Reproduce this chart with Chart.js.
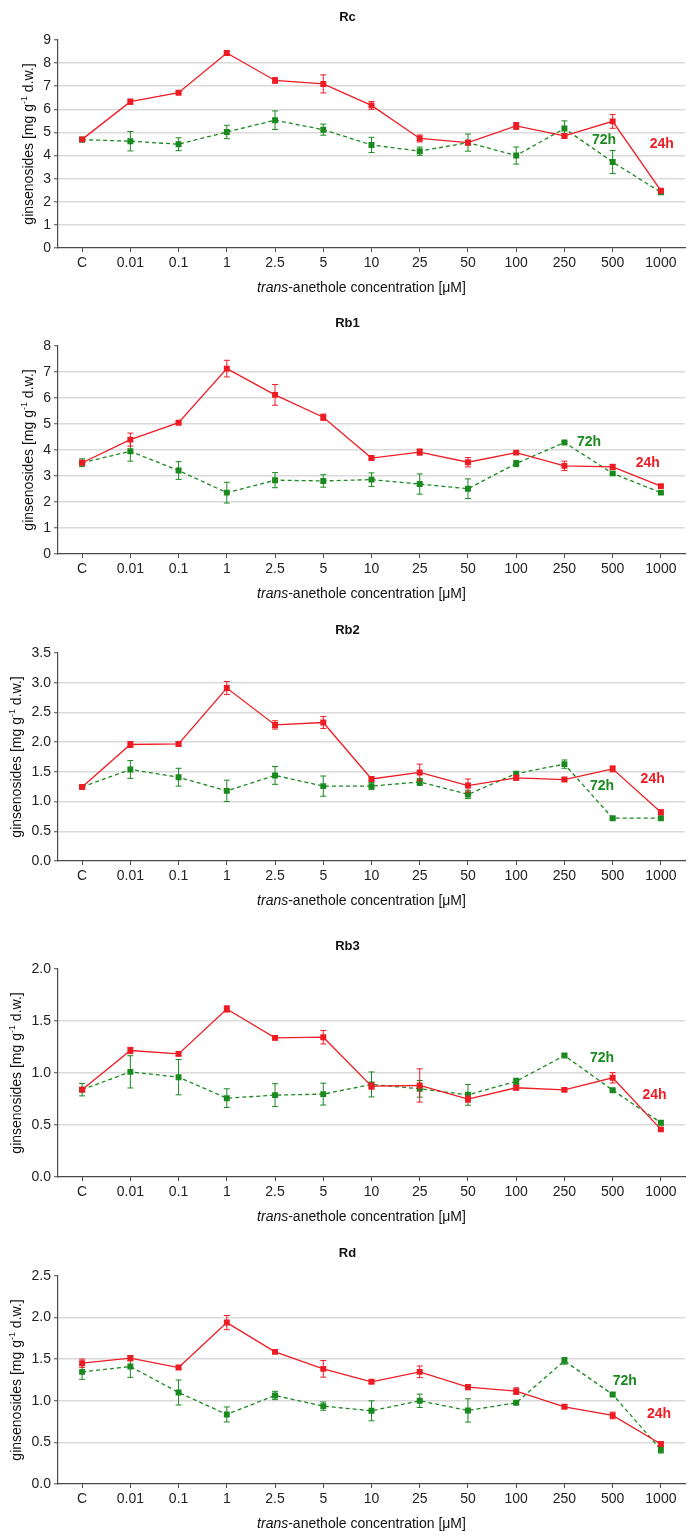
<!DOCTYPE html>
<html>
<head>
<meta charset="utf-8">
<script src="https://cdn.jsdelivr.net/npm/chart.js@4/dist/chart.umd.min.js"></script>
<style>
	body { margin: 0; background: #fff; }
	#wrap { position: relative; width: 695px; height: 1537px; }
	canvas { position: absolute; left: 0; }
</style>
</head>
<body>
<div id="wrap"></div>
<script>
const concentrations = ['C', '0.01', '0.1', '1', '2.5', '5', '10', '25', '50', '100', '250', '500', '1000'];

const rc24 = [4.70, 6.33, 6.72, 8.44, 7.25, 7.10, 6.17, 4.74, 4.56, 5.28, 4.85, 5.48, 2.48];
const rc24Err = [0.08, 0.11, 0.05, 0.07, 0.12, 0.39, 0.17, 0.15, 0.10, 0.15, 0.10, 0.30, 0.05];
const rc72 = [4.69, 4.62, 4.49, 5.02, 5.53, 5.12, 4.46, 4.19, 4.56, 4.00, 5.17, 3.72, 2.41];
const rc72Err = [0.10, 0.42, 0.28, 0.29, 0.40, 0.24, 0.33, 0.18, 0.37, 0.37, 0.33, 0.50, 0.08];

const rb1_24 = [3.51, 4.40, 5.05, 7.13, 6.12, 5.26, 3.69, 3.92, 3.53, 3.90, 3.39, 3.35, 2.61];
const rb1_24Err = [0.05, 0.25, 0.04, 0.32, 0.40, 0.12, 0.05, 0.12, 0.18, 0.05, 0.18, 0.10, 0.04];
const rb1_72 = [3.51, 3.95, 3.21, 2.36, 2.84, 2.81, 2.86, 2.69, 2.51, 3.48, 4.29, 3.10, 2.36];
const rb1_72Err = [0.15, 0.38, 0.34, 0.40, 0.29, 0.24, 0.26, 0.39, 0.38, 0.12, 0.05, 0.05, 0.05];

const rb2_24 = [1.245, 1.96, 1.97, 2.91, 2.29, 2.33, 1.38, 1.49, 1.27, 1.40, 1.37, 1.55, 0.82];
const rb2_24Err = [0.02, 0.05, 0.03, 0.11, 0.07, 0.10, 0.03, 0.14, 0.11, 0.04, 0.02, 0.05, 0.04];
const rb2_72 = [1.245, 1.54, 1.41, 1.18, 1.44, 1.26, 1.26, 1.33, 1.12, 1.47, 1.63, 0.72, 0.72];
const rb2_72Err = [0.03, 0.15, 0.15, 0.18, 0.15, 0.17, 0.06, 0.06, 0.07, 0.03, 0.07, 0.02, 0.02];

const rb3_24 = [0.84, 1.216, 1.184, 1.616, 1.338, 1.344, 0.874, 0.88, 0.749, 0.858, 0.838, 0.954, 0.458];
const rb3_24Err = [0.02, 0.03, 0.02, 0.03, 0.02, 0.065, 0.03, 0.16, 0.03, 0.02, 0.01, 0.05, 0.01];
const rb3_72 = [0.84, 1.011, 0.96, 0.758, 0.787, 0.797, 0.89, 0.848, 0.79, 0.92, 1.168, 0.835, 0.522];
const rb3_72Err = [0.06, 0.155, 0.17, 0.09, 0.11, 0.105, 0.12, 0.08, 0.10, 0.03, 0.01, 0.01, 0.02];

const rd24 = [1.452, 1.512, 1.40, 1.94, 1.588, 1.384, 1.228, 1.348, 1.164, 1.116, 0.928, 0.824, 0.48];
const rd24Err = [0.05, 0.03, 0.02, 0.085, 0.02, 0.10, 0.02, 0.07, 0.03, 0.04, 0.02, 0.04, 0.02];
const rd72 = [1.348, 1.412, 1.10, 0.836, 1.064, 0.936, 0.88, 1.00, 0.884, 0.976, 1.48, 1.076, 0.412];
const rd72Err = [0.09, 0.13, 0.15, 0.09, 0.05, 0.05, 0.12, 0.08, 0.14, 0.02, 0.04, 0.02, 0.04];

const titles = ['Rc', 'Rb1', 'Rb2', 'Rb3', 'Rd'];
const yMaxes = [9, 8, 3.5, 2.0, 2.5];
const ySteps = [1, 1, 0.5, 0.5, 0.5];
const yDecimals = [0, 0, 1, 1, 1];

const RED = '#ee1c24';
const GREEN = '#1a8a1f';
const FONT = '"Liberation Sans", Arial, sans-serif';
const AXIS = '#4a4a4a';

// where the "72h" / "24h" tags sit, as [category index, value]
const tagSpots = [
	{ t72: [10.82, 4.66], t24: [12.02, 4.50] },
	{ t72: [10.51, 4.30], t24: [11.73, 3.51] },
	{ t72: [10.78, 1.26], t24: [11.83, 1.37] },
	{ t72: [10.78, 1.146], t24: [11.87, 0.784] },
	{ t72: [11.25, 1.232], t24: [11.96, 0.844] }
];
const canvasTops = [0, 306, 613, 929, 1236];

const panels = [
	[rc24, rc24Err, rc72, rc72Err],
	[rb1_24, rb1_24Err, rb1_72, rb1_72Err],
	[rb2_24, rb2_24Err, rb2_72, rb2_72Err],
	[rb3_24, rb3_24Err, rb3_72, rb3_72Err],
	[rd24, rd24Err, rd72, rd72Err]
];

function drawRuns(ctx, runs, x, y) {
	let total = 0;
	runs.forEach(r => { ctx.font = r.font; total += ctx.measureText(r.text).width; });
	let cx = x - total / 2;
	runs.forEach(r => {
		ctx.font = r.font;
		ctx.fillText(r.text, cx, y + (r.dy || 0));
		cx += ctx.measureText(r.text).width;
	});
}

const errorBars = {
	id: 'errorBars',
	afterDatasetDraw(chart, args) {
		const ds = chart.data.datasets[args.index];
		if (!ds.errors) return;
		const ctx = chart.ctx;
		const y = chart.scales.y;
		ctx.save();
		ctx.strokeStyle = ds.borderColor;
		ctx.lineWidth = 1;
		args.meta.data.forEach((pt, i) => {
			const e = ds.errors[i];
			if (!e) return;
			const top = y.getPixelForValue(ds.data[i] + e);
			const bot = y.getPixelForValue(ds.data[i] - e);
			ctx.beginPath();
			ctx.moveTo(pt.x, top); ctx.lineTo(pt.x, bot);
			ctx.moveTo(pt.x - 3, top); ctx.lineTo(pt.x + 3, top);
			ctx.moveTo(pt.x - 3, bot); ctx.lineTo(pt.x + 3, bot);
			ctx.stroke();
		});
		ctx.restore();
	}
};

const decorations = {
	id: 'decorations',
	afterDraw(chart, args, opts) {
		const ctx = chart.ctx;
		const area = chart.chartArea;
		const xs = chart.scales.x, ys = chart.scales.y;
		ctx.save();
		ctx.fillStyle = '#111';
		ctx.textBaseline = 'middle';
		ctx.textAlign = 'left';
		// panel title
		drawRuns(ctx, [{ text: opts.title, font: 'bold 13px ' + FONT }], chart.width / 2, 17);
		// x title
		drawRuns(ctx, [
			{ text: 'trans', font: 'italic 14px ' + FONT },
			{ text: '-anethole concentration [\u03bcM]', font: '14px ' + FONT }
		], (area.left + area.right) / 2 - 10, 288);
		// y title
		ctx.font = '14px ' + FONT;
		const lw = ctx.measureText(opts.widest).width;
		const yx = area.left - 7 - lw - 14;
		ctx.translate(yx, (area.top + area.bottom) / 2);
		ctx.rotate(-Math.PI / 2);
		drawRuns(ctx, [
			{ text: 'ginsenosides [mg g', font: '14px ' + FONT },
			{ text: '-1', font: '9px ' + FONT, dy: -5 },
			{ text: ' d.w.]', font: '14px ' + FONT }
		], 0, 0);
		ctx.restore();
		// series tags
		ctx.save();
		ctx.textAlign = 'center';
		ctx.textBaseline = 'middle';
		ctx.font = 'bold 14px ' + FONT;
		ctx.fillStyle = GREEN;
		ctx.fillText('72h', xs.getPixelForValue(opts.spots.t72[0]), ys.getPixelForValue(opts.spots.t72[1]));
		ctx.fillStyle = RED;
		ctx.fillText('24h', xs.getPixelForValue(opts.spots.t24[0]), ys.getPixelForValue(opts.spots.t24[1]));
		ctx.restore();
	}
};

const wrap = document.getElementById('wrap');

panels.forEach((p, k) => {
	const canvas = document.createElement('canvas');
	canvas.width = 695;
	canvas.height = 300;
	canvas.style.top = canvasTops[k] + 'px';
	wrap.appendChild(canvas);

	const yMax = yMaxes[k];
	const dec = yDecimals[k];

	// eslint-disable-next-line no-undef
	new Chart(canvas.getContext('2d'), {
		type: 'line',
		data: {
			labels: concentrations,
			datasets: [{
				label: '24h',
				data: p[0],
				errors: p[1],
				borderColor: RED,
				backgroundColor: RED,
				borderWidth: 1.3,
				pointStyle: 'rect',
				pointRadius: 4.2,
				pointBorderWidth: 0,
				tension: 0,
				order: 1
			}, {
				label: '72h',
				data: p[2],
				errors: p[3],
				borderColor: GREEN,
				backgroundColor: GREEN,
				borderWidth: 1.3,
				borderDash: [4, 3],
				pointStyle: 'rect',
				pointRadius: 4.2,
				pointBorderWidth: 0,
				tension: 0,
				order: 2
			}]
		},
		options: {
			responsive: false,
			animation: false,
			layout: { padding: { top: 40, left: 0, right: 10, bottom: 22 } },
			scales: {
				x: {
					type: 'category',
					offset: true,
					grid: { offset: false, drawOnChartArea: false, tickLength: 4, tickColor: AXIS },
					border: { color: AXIS, width: 1.2 },
					ticks: { color: '#222', font: { size: 14, family: FONT }, padding: 3, maxRotation: 0, autoSkip: false },
					afterFit: s => { s.height = 30; }
				},
				y: {
					min: 0,
					max: yMax,
					grid: {
						color: c => (c.tick && (c.tick.value === 0 || Math.abs(c.tick.value - yMax) < 1e-9)) ? 'rgba(0,0,0,0)' : '#dadada',
						lineWidth: 1.5,
						tickLength: 4,
						tickColor: AXIS,
						tickWidth: 1
					},
					border: { color: AXIS, width: 1.2 },
					ticks: {
						stepSize: ySteps[k],
						color: '#222',
						font: { size: 14, family: FONT },
						padding: 3,
						callback: v => v.toFixed(dec)
					},
					afterFit: s => { s.width = 58; }
				}
			},
			plugins: {
				legend: { display: false },
				tooltip: { enabled: false },
				decorations: {
					title: titles[k],
					widest: yMax.toFixed(dec),
					spots: tagSpots[k]
				}
			}
		},
		plugins: [errorBars, decorations]
	});
});
</script>
</body>
</html>
